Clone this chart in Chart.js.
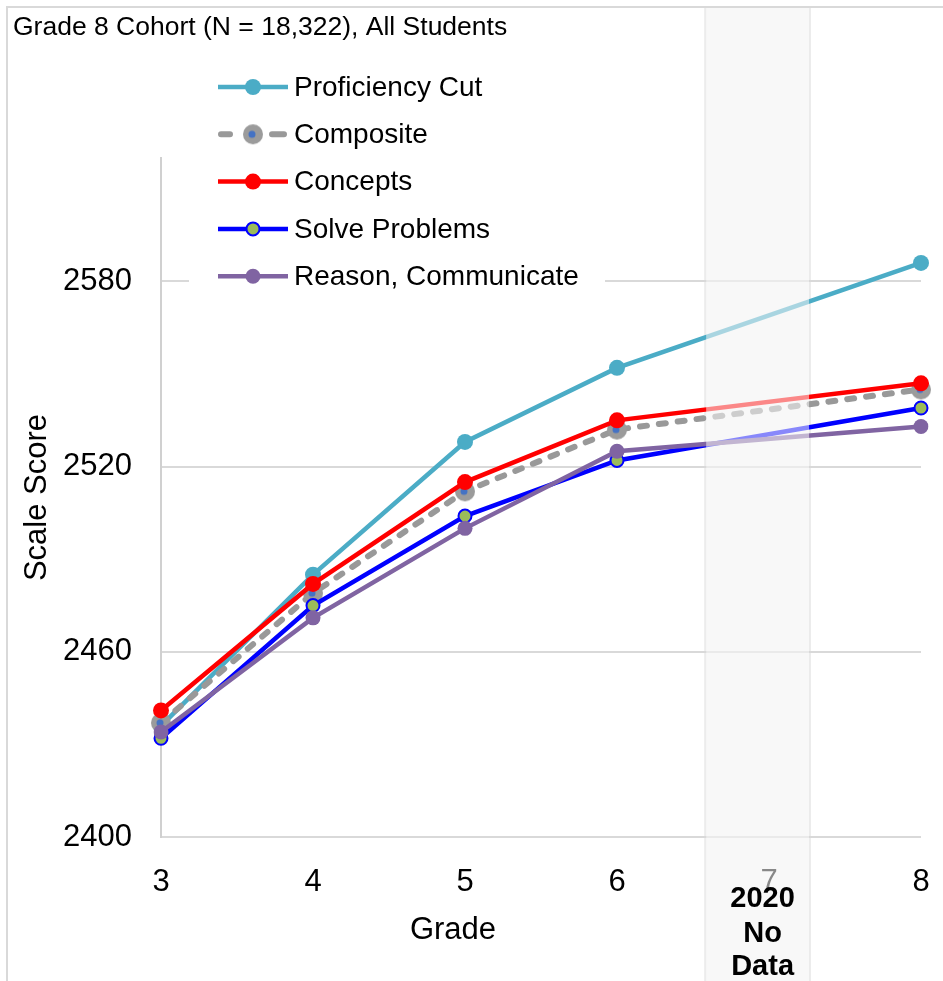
<!DOCTYPE html>
<html lang="en">
<head>
<meta charset="UTF-8" />
<meta name="viewport" content="width=device-width, initial-scale=1.0" />
<title>Grade 8 Cohort - Scale Score by Grade</title>
<style>
  * { margin: 0; padding: 0; }
  body { background: #fff; }
  .chartBox { width: 943px; height: 981px; }
</style>
</head>
<body>
<div class="chartBox"><canvas id="myChart"></canvas></div>

<script src="https://cdn.jsdelivr.net/npm/chart.js"></script>
<script>
// data block
const grades = ["3", "4", "5", "6", "7", "8"];
const yTicks = [2400, 2460, 2520, 2580];
const proficiencyCut = [2436, 2485, 2528, 2552, null, 2586];
const composite = [2437, 2479, 2512, 2532, null, 2545];
const concepts = [2441, 2482, 2515, 2535, null, 2547];
const solveProblems = [2432, 2475, 2504, 2522, null, 2539];
const reasonCommunicate = [2434, 2471, 2500, 2525, null, 2533];

const FONT = "'Liberation Sans', Arial, sans-serif";

// composite marker: grey disc with a small blue dot
const compositeMarker = document.createElement("canvas");
compositeMarker.width = 22;
compositeMarker.height = 22;
(function () {
  const m = compositeMarker.getContext("2d");
  m.fillStyle = "#9b9b9b";
  m.beginPath(); m.arc(11, 11, 10, 0, Math.PI * 2); m.fill();
  m.fillStyle = "#4472c4";
  m.beginPath(); m.arc(10, 11, 3.5, 0, Math.PI * 2); m.fill();
})();

const data = {
  labels: grades,
  datasets: [
    {
      label: "Proficiency Cut", data: proficiencyCut, order: 5,
      borderColor: "#4bacc6", borderWidth: 4.5,
      pointRadius: 8, pointBackgroundColor: "#4bacc6", pointBorderWidth: 0
    },
    {
      label: "Composite", data: composite, order: 4,
      borderColor: "#999999", borderWidth: 6, borderDash: [7, 12], borderCapStyle: "round",
      pointStyle: compositeMarker, pointRadius: 10
    },
    {
      label: "Concepts", data: concepts, order: 1,
      borderColor: "#ff0000", borderWidth: 4.5,
      pointRadius: 8, pointBackgroundColor: "#ff0000", pointBorderWidth: 0
    },
    {
      label: "Solve Problems", data: solveProblems, order: 3,
      borderColor: "#0000ff", borderWidth: 4.5,
      pointRadius: 6.5, pointBackgroundColor: "#9bbb59", pointBorderColor: "#0000ff", pointBorderWidth: 2
    },
    {
      label: "Reason, Communicate", data: reasonCommunicate, order: 2,
      borderColor: "#8064a2", borderWidth: 4.5,
      pointRadius: 7.5, pointBackgroundColor: "#8064a2", pointBorderWidth: 0
    }
  ]
};

// shaded "no data" column around grade 7
function bandEdges(chart) {
  const x = chart.scales.x;
  const step = x.getPixelForValue(1) - x.getPixelForValue(0);
  return { left: x.getPixelForValue(3) + 0.58 * step, right: x.getPixelForValue(4) + 0.27 * step };
}

function drawMarker(ctx, ds, x, y) {
  if (ds.pointStyle instanceof HTMLCanvasElement) {
    ctx.drawImage(ds.pointStyle, x - ds.pointStyle.width / 2, y - ds.pointStyle.height / 2);
    return;
  }
  ctx.beginPath();
  ctx.arc(x, y, ds.pointRadius, 0, Math.PI * 2);
  ctx.fillStyle = ds.pointBackgroundColor;
  ctx.fill();
  if (ds.pointBorderWidth) {
    ctx.lineWidth = ds.pointBorderWidth;
    ctx.strokeStyle = ds.pointBorderColor;
    ctx.stroke();
  }
}

const decorations = {
  id: "decorations",
  beforeDraw(chart) {
    const { ctx, width, height } = chart;
    const band = bandEdges(chart);
    ctx.save();
    ctx.fillStyle = "#fff";
    ctx.fillRect(0, 0, width, height);
    ctx.fillStyle = "#f8f8f8";
    ctx.fillRect(band.left, 7, band.right - band.left, height);
    ctx.strokeStyle = "#ececec";
    ctx.lineWidth = 2;
    ctx.beginPath();
    ctx.moveTo(band.left, 7); ctx.lineTo(band.left, height);
    ctx.moveTo(band.right, 7); ctx.lineTo(band.right, height);
    ctx.stroke();
    // outer frame
    ctx.strokeStyle = "#d9d9d9";
    ctx.beginPath();
    ctx.moveTo(7, height); ctx.lineTo(7, 7); ctx.lineTo(width, 7);
    ctx.stroke();
    ctx.restore();
  },
  afterDatasetsDraw(chart) {
    const { ctx, height } = chart;
    const band = bandEdges(chart);
    ctx.save();
    ctx.fillStyle = "rgba(248, 248, 248, 0.55)";
    ctx.fillRect(band.left + 1, 8, band.right - band.left - 2, height);
    ctx.restore();
  },
  afterDraw(chart) {
    const { ctx } = chart;
    const band = bandEdges(chart);
    ctx.save();
    ctx.fillStyle = "#000";
    ctx.textBaseline = "middle";

    ctx.font = `26.5px ${FONT}`;
    ctx.textAlign = "left";
    ctx.fillText("Grade 8 Cohort (N = 18,322), All Students", 13, 28);

    ctx.font = `31px ${FONT}`;
    ctx.textAlign = "center";
    ctx.fillText("Grade", 453, 930);

    ctx.font = `bold 29px ${FONT}`;
    const cx = (band.left + band.right) / 2 + 5;
    ctx.fillText("2020", cx, 899);
    ctx.fillText("No", cx, 934);
    ctx.fillText("Data", cx, 967);

    // legend
    ctx.fillStyle = "#fff";
    ctx.fillRect(189, 60, 416, 240);
    ctx.font = `28px ${FONT}`;
    ctx.textAlign = "left";
    chart.data.datasets.forEach((ds, i) => {
      const y = 87 + i * 47.3;
      ctx.strokeStyle = ds.borderColor;
      ctx.lineWidth = ds.borderWidth;
      ctx.lineCap = ds.borderCapStyle || "butt";
      ctx.beginPath();
      if (ds.borderDash) {
        ctx.moveTo(221, y); ctx.lineTo(230, y);
        ctx.moveTo(272, y); ctx.lineTo(284, y);
      } else {
        ctx.moveTo(218, y); ctx.lineTo(288, y);
      }
      ctx.stroke();
      drawMarker(ctx, ds, 253, y);
      ctx.fillStyle = "#000";
      ctx.fillText(ds.label, 294, y + 1);
    });
    ctx.restore();
  }
};

// config block
const config = {
  type: "line",
  data,
  options: {
    responsive: true,
    maintainAspectRatio: false,
    animation: false,
    spanGaps: true,
    elements: { line: { tension: 0 } },
    layout: { padding: { top: 158, right: 22, left: 0, bottom: 0 } },
    plugins: { legend: { display: false }, title: { display: false }, tooltip: { enabled: false } },
    scales: {
      x: {
        offset: false,
        grid: { display: false },
        border: { display: false },
        ticks: { color: "#000", padding: 19, font: { family: FONT, size: 31 } },
        afterFit: (s) => { s.height = 144; s.paddingLeft = 0; s.paddingRight = 0; }
      },
      y: {
        min: 2400,
        max: 2620,
        afterBuildTicks: (s) => { s.ticks = yTicks.map((v) => ({ value: v })); },
        grid: { color: "#d9d9d9", lineWidth: 2, drawTicks: false },
        border: { color: "#d0d0d0", width: 2 },
        ticks: {
          color: "#000", padding: 29, font: { family: FONT, size: 31 },
          callback: (v) => String(v)
        },
        title: {
          display: true, text: "Scale Score", color: "#000",
          font: { family: FONT, size: 31 }, padding: { top: 19, bottom: 0 }
        },
        afterFit: (s) => { s.width = 161; }
      }
    }
  },
  plugins: [decorations]
};

// init render block
const myChart = new Chart(document.getElementById("myChart"), config);
</script>
</body>
</html>
